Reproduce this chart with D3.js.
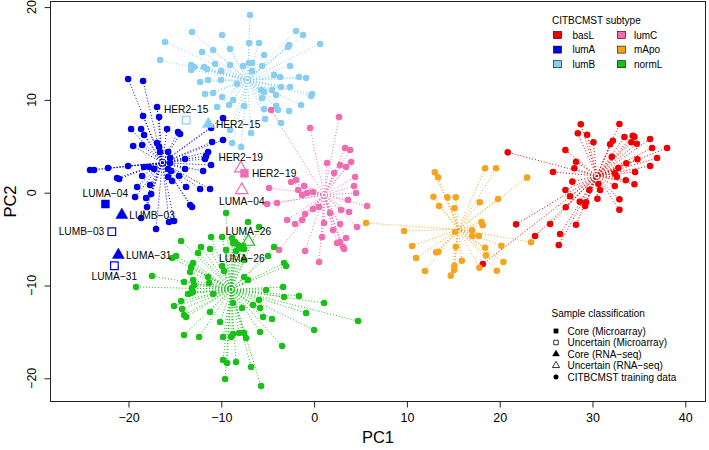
<!DOCTYPE html>
<html><head><meta charset="utf-8">
<script src="https://cdn.jsdelivr.net/npm/d3@7"></script>
<style>body{margin:0;background:#fff}svg{display:block}text{font-family:"Liberation Sans",Arial,Helvetica,sans-serif}</style>
</head><body><svg id="c" width="709" height="450"></svg>
<script>
// ---- data ----
const subtypes = ["basL","lumA","lumB","lumC","mApo","normL"];
const subtypeColors = ["#EE0000","#0000E8","#87CEF0","#F26BB2","#F7A31C","#18C018"];
const centerX = [30.46, -16.35, -7.19, 1.08, 15.55, -8.94];
const centerY = [1.80, 3.23, 12.14, -0.25, -3.94, -10.41];

const basL = [[28.74,7.37],[32.90,7.40],[28.42,6.40],[29.42,6.25],[30.10,5.43],[33.44,6.00],[34.34,6.14],[34.52,6.03],[32.19,5.60],[31.90,5.22],[34.19,5.43],[34.77,5.28],[27.08,4.60],[20.87,4.35],[32.08,3.88],[28.23,3.34],[28.05,2.63],[25.75,2.23],[33.65,3.17],[34.84,3.60],[32.79,2.66],[32.40,2.09],[32.62,1.72],[34.59,2.23],[27.83,1.19],[30.64,0.94],[33.59,1.34],[32.40,0.72],[34.52,0.91],[27.08,0.29],[29.67,0.29],[30.82,0.29],[27.59,-0.39],[32.90,-0.71],[30.53,-0.65],[28.63,-0.97],[29.31,-1.03],[29.20,-1.43],[27.12,-1.57],[32.90,-1.83],[21.77,-3.41],[25.43,-3.37],[28.23,-3.45],[23.81,-4.67],[26.51,-4.45],[26.37,-5.64],[18.18,-7.68],[36.21,5.79],[36.42,4.82],[38.04,4.82],[36.96,3.74],[36.21,2.88]];
const lumA = [[-20.04,12.25],[-18.43,12.04],[-16.92,9.24],[-18.43,8.27],[-16.70,8.16],[-19.72,6.86],[-18.64,6.86],[-15.84,6.86],[-14.66,6.54],[-14.44,6.33],[-18.32,6.22],[-9.81,8.05],[-11.10,6.97],[-9.81,5.68],[-10.99,5.46],[-19.50,5.03],[-18.53,5.14],[-16.92,5.36],[-16.70,4.92],[-15.73,4.39],[-16.59,4.39],[-15.52,3.74],[-15.52,3.20],[-11.42,4.39],[-11.64,3.95],[-11.75,3.63],[-13.90,3.63],[-24.14,2.45],[-23.71,2.45],[-22.20,2.66],[-20.04,2.88],[-18.32,2.77],[-17.78,2.77],[-17.24,2.55],[-15.73,2.55],[-15.41,2.34],[-11.10,2.98],[-11.96,2.34],[-14.55,1.80],[-21.23,1.58],[-21.01,1.48],[-18.53,1.80],[-15.73,1.69],[-15.30,1.26],[-17.67,0.83],[-19.07,0.61],[-12.28,0.40],[-11.21,0.40],[-13.79,0.61],[-13.90,2.55],[-19.29,-0.46],[-18.10,-0.57],[-17.56,-0.14],[-18.00,-1.54],[-18.64,-2.73],[-17.03,-3.91],[-15.63,-3.16],[-15.09,-3.05],[-13.36,-1.33],[-13.15,-1.54]];
const lumB = [[-6.90,19.15],[-13.15,17.32],[-9.91,16.99],[-1.94,17.42],[-1.19,16.99],[-16.06,16.24],[-7.00,16.13],[-5.93,16.13],[-2.69,15.92],[-2.80,15.70],[0.65,16.02],[-12.07,15.16],[-10.88,15.38],[-9.05,15.49],[-5.39,14.84],[-16.59,14.30],[-13.25,13.76],[-12.93,13.55],[-13.25,13.22],[-11.85,13.55],[-11.53,13.33],[-10.67,13.87],[-9.05,13.76],[-7.65,13.65],[-7.00,13.98],[-6.68,13.98],[-5.60,13.65],[-2.59,13.65],[-10.02,13.11],[-6.68,13.11],[-4.31,12.68],[-3.66,12.47],[-1.62,12.47],[-0.86,12.36],[-12.28,11.93],[-11.42,12.14],[-10.02,12.14],[-8.30,11.71],[-11.75,10.64],[-10.88,10.74],[-5.71,11.07],[-5.39,10.85],[-4.53,11.07],[-3.56,11.39],[-2.59,11.39],[-5.60,10.20],[-4.09,10.53],[-0.22,10.64],[-0.32,10.42],[-9.91,10.31],[-8.73,9.99],[-9.16,9.45],[-10.45,9.24],[-7.54,9.34],[-4.09,9.34],[-2.69,8.80],[-5.39,9.02],[-5.28,7.94],[-3.88,8.91],[-1.40,9.45],[-9.05,6.76],[-6.79,6.43],[-7.87,4.92],[-8.84,5.36],[-3.56,7.51]];
const lumC = [[-4.63,8.91],[-0.43,6.97],[2.69,8.16],[3.34,4.82],[3.88,4.60],[1.40,3.20],[3.99,3.31],[2.80,2.98],[3.45,2.77],[2.16,2.12],[4.42,1.69],[-1.94,1.37],[-1.08,0.72],[-2.48,1.15],[4.31,0.72],[4.53,-0.03],[3.66,-0.79],[-1.29,-0.25],[-0.11,0.08],[-0.75,-0.03],[-4.85,0.51],[-1.72,0.29],[-5.06,-1.22],[-3.99,-1.11],[-2.91,-2.94],[-2.05,-3.37],[-1.29,-2.94],[-0.97,-2.30],[-0.11,-1.76],[0.54,-1.54],[1.72,-2.19],[2.91,-1.86],[3.77,-2.08],[4.63,-3.70],[2.80,-3.37],[2.05,-4.02],[1.08,-3.27],[0.86,-4.77],[2.80,-5.31],[2.48,-5.42],[3.13,-5.85],[3.23,-6.07],[3.45,-4.88],[-0.97,-6.28],[-3.77,-6.17],[0.54,-7.47],[5.71,-1.43]];
const mApo = [[13.01,2.20],[13.36,1.66],[18.43,2.63],[19.61,2.63],[22.95,1.62],[12.86,-0.43],[14.36,-0.50],[15.27,-0.50],[13.47,-1.43],[15.12,-1.68],[17.86,-1.03],[19.83,-0.68],[18.03,-3.16],[18.18,-3.51],[17.03,-4.05],[15.19,-4.23],[17.06,-4.67],[17.75,-4.67],[20.18,-5.71],[23.38,-5.34],[15.27,-5.82],[18.43,-5.93],[18.53,-6.75],[13.15,-6.42],[13.39,-6.36],[15.92,-7.33],[20.40,-7.47],[15.12,-7.87],[15.09,-8.33],[17.81,-8.08],[19.69,-8.41],[14.73,-8.94],[5.60,-3.27],[9.70,-4.13],[10.56,-5.74],[10.99,-7.04],[11.96,-8.44]];
const normL = [[-9.48,-2.19],[-7.11,-3.16],[-5.93,-3.70],[-11.10,-4.77],[-9.91,-4.77],[-8.84,-4.88],[-8.51,-5.31],[-8.73,-5.42],[-8.19,-5.64],[-7.54,-6.07],[-14.33,-5.20],[-12.18,-5.85],[-11.21,-6.07],[-9.48,-6.17],[-8.41,-6.28],[-7.54,-7.25],[-4.96,-6.82],[-4.31,-5.85],[-15.30,-7.04],[-14.87,-6.82],[-12.50,-6.50],[-13.04,-7.58],[-13.25,-8.01],[-13.36,-8.55],[-9.91,-7.90],[-9.70,-8.44],[-17.46,-8.98],[-19.18,-10.16],[-14.01,-9.62],[-13.04,-9.41],[-12.93,-9.95],[-13.15,-10.27],[-13.04,-10.70],[-11.42,-9.08],[-11.31,-9.73],[-13.58,-10.92],[-13.25,-10.81],[-10.88,-10.92],[-7.54,-9.08],[-7.11,-9.41],[-3.23,-7.58],[-3.02,-7.90],[-3.34,-10.16],[-5.17,-10.49],[-3.23,-11.24],[-1.62,-11.13],[1.08,-11.89],[-0.86,-12.96],[4.74,-13.83],[0.00,-14.80],[-5.93,-11.56],[-5.82,-12.42],[-6.57,-12.10],[-7.76,-12.42],[-8.73,-11.89],[-14.33,-11.67],[-15.09,-12.21],[-14.22,-12.53],[-14.01,-13.18],[-13.79,-13.39],[-11.21,-12.86],[-10.13,-13.93],[-5.50,-13.39],[-4.53,-13.61],[-5.82,-15.01],[-14.01,-15.33],[-12.39,-15.55],[-9.81,-15.55],[-8.94,-15.55],[-8.73,-15.23],[-8.08,-15.12],[-7.54,-15.12],[-7.33,-15.66],[-3.45,-16.52],[-9.81,-18.03],[-9.38,-18.35],[-8.41,-18.24],[-6.79,-18.78],[-9.59,-20.08],[-5.71,-20.83]];
const trainingSets = [basL, lumA, lumB, lumC, mApo, normL];

// annotated samples
const sampleNames   = ["HER2−15","HER2−15","HER2−19","HER2−19","LUMA−04","LUMA−04","LUMB−03","LUMB−03","LUMA−31","LUMA−31","LUMA−26","LUMA−26"];
const sampleX       = [-13.79,-11.39,-7.90,-7.51,-7.79,-22.49,-20.72,-21.80,-21.09,-21.52,-7.08,-7.79];
const sampleY       = [7.83,7.40,2.63,2.09,0.29,-1.22,-2.40,-4.20,-6.71,-7.87,-5.28,-5.88];
const sampleSubtype = ["lumB","lumB","lumC","lumC","lumC","lumA","lumA","lumA","lumA","lumA","normL","normL"];
const sampleClass   = ["Uncertain (Microarray)","Core (RNA−seq)","Uncertain (RNA−seq)","Core (Microarray)","Uncertain (RNA−seq)","Core (Microarray)","Core (RNA−seq)","Uncertain (Microarray)","Core (RNA−seq)","Uncertain (Microarray)","Uncertain (RNA−seq)","Core (Microarray)"];
const labelPos      = ["above","right","above","right","below","above","right","left","right","below","above","below"];

const classNames = ["Core (Microarray)","Uncertain (Microarray)","Core (RNA−seq)","Uncertain (RNA−seq)","CITBCMST training data"];
const xTicks = [-20,-10,0,10,20,30,40];
const yTicks = [-20,-10,0,10,20];

// ---- drawing ----
const svg = d3.select("#c");
const x = d3.scaleLinear().domain([-20,40]).range([128.5,685.3]);
const y = d3.scaleLinear().domain([-20,20]).range([378.3,7.1]);
const col = d3.scaleOrdinal().domain(subtypes).range(subtypeColors);
const box = {l:50.5, r:705.5, t:1.5, b:401.5};

// spider lines
const gL = svg.append("g");
trainingSets.forEach((pts,i)=>{
  gL.selectAll(null).data(pts).enter().append("line")
    .attr("x1",x(centerX[i])).attr("y1",y(centerY[i]))
    .attr("x2",d=>x(d[0])).attr("y2",d=>y(d[1]))
    .attr("stroke",subtypeColors[i]).attr("stroke-width",1)
    .attr("stroke-dasharray","1,2");
});
// points
const gP = svg.append("g");
trainingSets.forEach((pts,i)=>{
  gP.selectAll(null).data(pts).enter().append("circle")
    .attr("cx",d=>x(d[0])).attr("cy",d=>y(d[1])).attr("r",3.3)
    .attr("fill",subtypeColors[i]);
});

// annotated samples
const symFor = c => c.includes("Microarray") ? d3.symbolSquare : d3.symbolTriangle;
const gS = svg.append("g");
sampleNames.forEach((n,i)=>{
  const c = col(sampleSubtype[i]);
  const filled = sampleClass[i].startsWith("Core");
  const isSq = sampleClass[i].includes("Microarray");
  const size = isSq ? (filled?64:58) : (filled?62:66);
  const px = x(sampleX[i]), py = y(sampleY[i]);
  gS.append("path").attr("d", d3.symbol().type(symFor(sampleClass[i])).size(size)())
    .attr("transform",`translate(${px},${py})`)
    .attr("fill", filled? c : "none").attr("stroke", c).attr("stroke-width", filled?0.5:1.2);
  let tx=px, ty=py, anchor="middle";
  if(labelPos[i]==="above"){ty=py-10.5;}
  else if(labelPos[i]==="below"){ty=py+11;}
  else if(labelPos[i]==="right"){tx=px+7.5;anchor="start";}
  else {tx=px-7.5;anchor="end";}
  gS.append("text").attr("x",tx).attr("y",ty).attr("dy","0.36em")
    .attr("text-anchor",anchor).attr("font-size",10.2).attr("fill","#000").text(n);
});

// box
svg.append("rect").attr("x",box.l).attr("y",box.t).attr("width",box.r-box.l).attr("height",box.b-box.t)
  .attr("fill","none").attr("stroke","#222").attr("stroke-width",1);

// x axis
const gx = svg.append("g").attr("transform",`translate(0,${box.b})`)
  .call(d3.axisBottom(x).tickValues(xTicks).tickSize(6).tickPadding(6).tickFormat(d3.format("d")));
gx.select(".domain").remove();
gx.selectAll("line").attr("stroke","#222");
gx.selectAll("text").attr("font-size",12.5).attr("fill","#000").style("font-family","Liberation Sans, Arial, sans-serif");
// y axis
const gy = svg.append("g").attr("transform",`translate(${box.l},0)`)
  .call(d3.axisLeft(y).tickValues(yTicks).tickSize(6).tickFormat(""));
gy.select(".domain").remove();
gy.selectAll("line").attr("stroke","#222");
svg.append("g").selectAll("text").data(yTicks).enter().append("text")
  .attr("transform",d=>`translate(${box.l-14.5},${y(d)}) rotate(-90)`)
  .attr("text-anchor","middle").attr("font-size",12.5).attr("fill","#000")
  .text(d=>d3.format("d")(d));
// axis titles
svg.append("text").attr("x",(box.l+box.r)/2).attr("y",443).attr("text-anchor","middle")
  .attr("font-size",16.5).attr("fill","#000").text("PC1");
svg.append("text").attr("transform",`translate(16,${(box.t+box.b)/2}) rotate(-90)`)
  .attr("text-anchor","middle").attr("font-size",16.5).attr("fill","#000").text("PC2");

// legend 1: subtypes
const lg1 = svg.append("g");
lg1.append("text").attr("x",552).attr("y",20).attr("dy","0.36em").attr("font-size",10).text("CITBCMST subtype");
subtypes.forEach((s,i)=>{
  const cx = i<3 ? 553.5 : 617.5, tx = i<3 ? 572.5 : 634;
  const ry = 35 + (i%3)*14.6;
  lg1.append("rect").attr("x",cx).attr("y",ry-3.5).attr("width",8).attr("height",7)
    .attr("fill",subtypeColors[i]).attr("stroke","#000").attr("stroke-width",0.6);
  lg1.append("text").attr("x",tx).attr("y",ry).attr("dy","0.36em").attr("font-size",10).text(s);
});

// legend 2: sample classification
const lg2 = svg.append("g");
lg2.append("text").attr("x",551.5).attr("y",313).attr("dy","0.36em").attr("font-size",10).text("Sample classification");
classNames.forEach((c,i)=>{
  const ry = 331 + i*11.5, sx = 556;
  if(i<4){
    const isSq = c.includes("Microarray"), filled = c.startsWith("Core");
    lg2.append("path").attr("d", d3.symbol().type(isSq?d3.symbolSquare:d3.symbolTriangle).size(isSq?20:22)())
      .attr("transform",`translate(${sx},${ry})`)
      .attr("fill",filled?"#000":"none").attr("stroke","#000").attr("stroke-width",filled?0.3:0.8);
  } else {
    lg2.append("circle").attr("cx",sx).attr("cy",ry).attr("r",2.5).attr("fill","#000");
  }
  lg2.append("text").attr("x",567.5).attr("y",ry).attr("dy","0.36em").attr("font-size",10).text(c);
});
</script></body></html>
